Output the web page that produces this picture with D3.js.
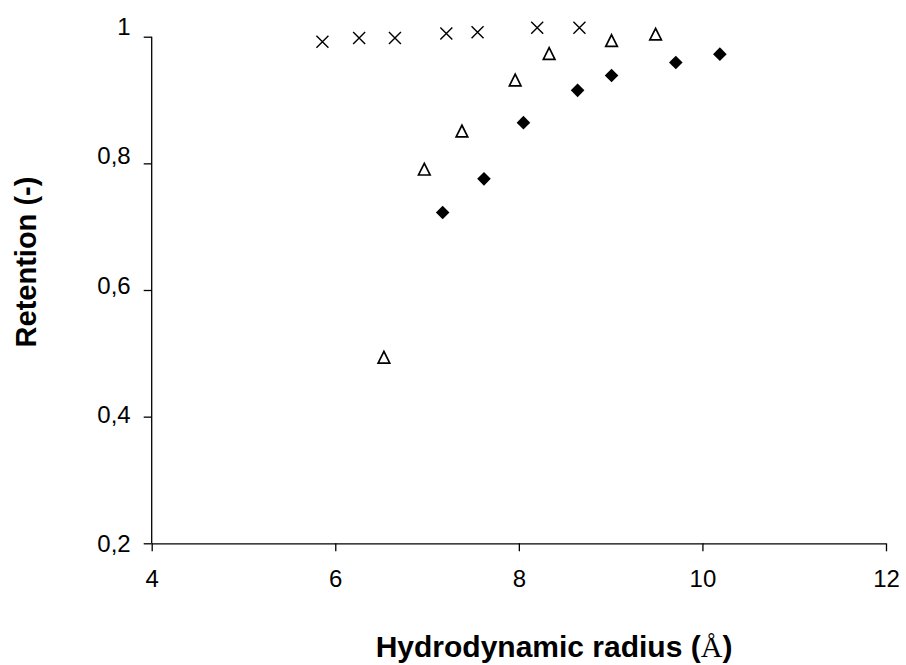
<!DOCTYPE html>
<html>
<head>
<meta charset="utf-8">
<script src="https://cdn.jsdelivr.net/npm/d3@7"></script>
<style>
  html, body { margin: 0; padding: 0; background: #fff; }
  svg { display: block; }
</style>
</head>
<body>
<svg id="chart" width="906" height="665"></svg>
<script>
// ---- data ----
const crossX = [5.86, 6.26, 6.65, 7.21, 7.55, 8.20, 8.66];
const crossY = [0.977, 0.983, 0.983, 0.990, 0.992, 0.999, 0.999];

const triX = [6.53, 6.97, 7.38, 7.96, 8.33, 9.01, 9.49];
const triY = [0.489, 0.780, 0.839, 0.918, 0.959, 0.979, 0.989];

const diaX = [7.17, 7.62, 8.05, 8.64, 9.01, 9.71, 10.19];
const diaY = [0.713, 0.765, 0.852, 0.902, 0.925, 0.945, 0.958];

const xTicks = [4, 6, 8, 10, 12];
const yTicks = [0.2, 0.4, 0.6, 0.8, 1.0];
const xTitle = "Hydrodynamic radius (";
const xTitleUnit = "Å";
const yTitle = "Retention (-)";

// ---- layout ----
const svg = d3.select("#chart");
const x = d3.scaleLinear().domain([4, 12]).range([151.7, 886]);
const y = d3.scaleLinear().domain([0.2, 1]).range([544, 27]);
const yAxisScale = d3.scaleLinear().domain([0.2, 1]).range([543.3, 36.7]);

const font = "'Liberation Sans', Arial, sans-serif";

// x axis
const gx = svg.append("g")
  .attr("transform", `translate(0,${yAxisScale(0.2)})`)
  .call(d3.axisBottom(x).tickValues(xTicks).tickSize(8).tickPadding(19)
        .tickFormat(d => String(d)));
// y axis
const gy = svg.append("g")
  .attr("transform", `translate(${x(4)},0)`)
  .call(d3.axisLeft(yAxisScale).tickValues(yTicks).tickSize(8).tickPadding(13)
        .tickFormat(d => d3.format(".1~f")(d).replace(".", ",")));
// place y labels at label positions seen in reference
gy.selectAll(".tick text").attr("y", d => y(d) - yAxisScale(d));

[gx, gy].forEach(g => {
  g.select(".domain").attr("stroke", "#000").attr("stroke-width", 1.3);
  g.selectAll(".tick line").attr("stroke", "#000").attr("stroke-width", 1.3);
  g.selectAll(".tick text").attr("fill", "#000")
    .style("font-family", font).style("font-size", "24px");
});
gx.select(".domain").attr("d", `M${x(4)},0.5H${x(12)}`);
gy.select(".domain").attr("d", `M0,${yAxisScale(1)}V${yAxisScale(0.2)}`);

// ---- marks ----
const crosses = crossX.map((v, i) => [v, crossY[i]]);
const tris = triX.map((v, i) => [v, triY[i]]);
const dias = diaX.map((v, i) => [v, diaY[i]]);

const cs = 6;
svg.append("g").selectAll("path").data(crosses).join("path")
  .attr("d", d => {
    const cx = x(d[0]), cy = y(d[1]);
    return `M${cx - cs},${cy - cs}L${cx + cs},${cy + cs}M${cx - cs},${cy + cs}L${cx + cs},${cy - cs}`;
  })
  .attr("stroke", "#000").attr("stroke-width", 1.4).attr("fill", "none");

const ts = 5.8;
svg.append("g").selectAll("path").data(tris).join("path")
  .attr("d", d => {
    const cx = x(d[0]), cy = y(d[1]);
    return `M${cx},${cy - ts}L${cx + ts},${cy + ts}L${cx - ts},${cy + ts}Z`;
  })
  .attr("stroke", "#000").attr("stroke-width", 1.7).attr("fill", "#fff")
  .attr("stroke-linejoin", "miter");

const ds = 6.8;
svg.append("g").selectAll("path").data(dias).join("path")
  .attr("d", d => {
    const cx = x(d[0]), cy = y(d[1]);
    return `M${cx},${cy - ds}L${cx + ds},${cy}L${cx},${cy + ds}L${cx - ds},${cy}Z`;
  })
  .attr("fill", "#000");

// ---- titles ----
const xt = svg.append("text")
  .attr("x", 554).attr("y", 657)
  .attr("text-anchor", "middle")
  .style("font-family", font).style("font-size", "30px").style("font-weight", "bold")
  .attr("fill", "#000");
xt.append("tspan").text(xTitle);
xt.append("tspan").text(xTitleUnit)
  .style("font-family", "'Liberation Serif', 'Times New Roman', serif").style("font-weight", "normal");
xt.append("tspan").text(")");

svg.append("text")
  .attr("transform", "translate(36,262) rotate(-90)")
  .attr("text-anchor", "middle")
  .style("font-family", font).style("font-size", "29px").style("font-weight", "bold")
  .attr("fill", "#000")
  .text(yTitle);
</script>
</body>
</html>
